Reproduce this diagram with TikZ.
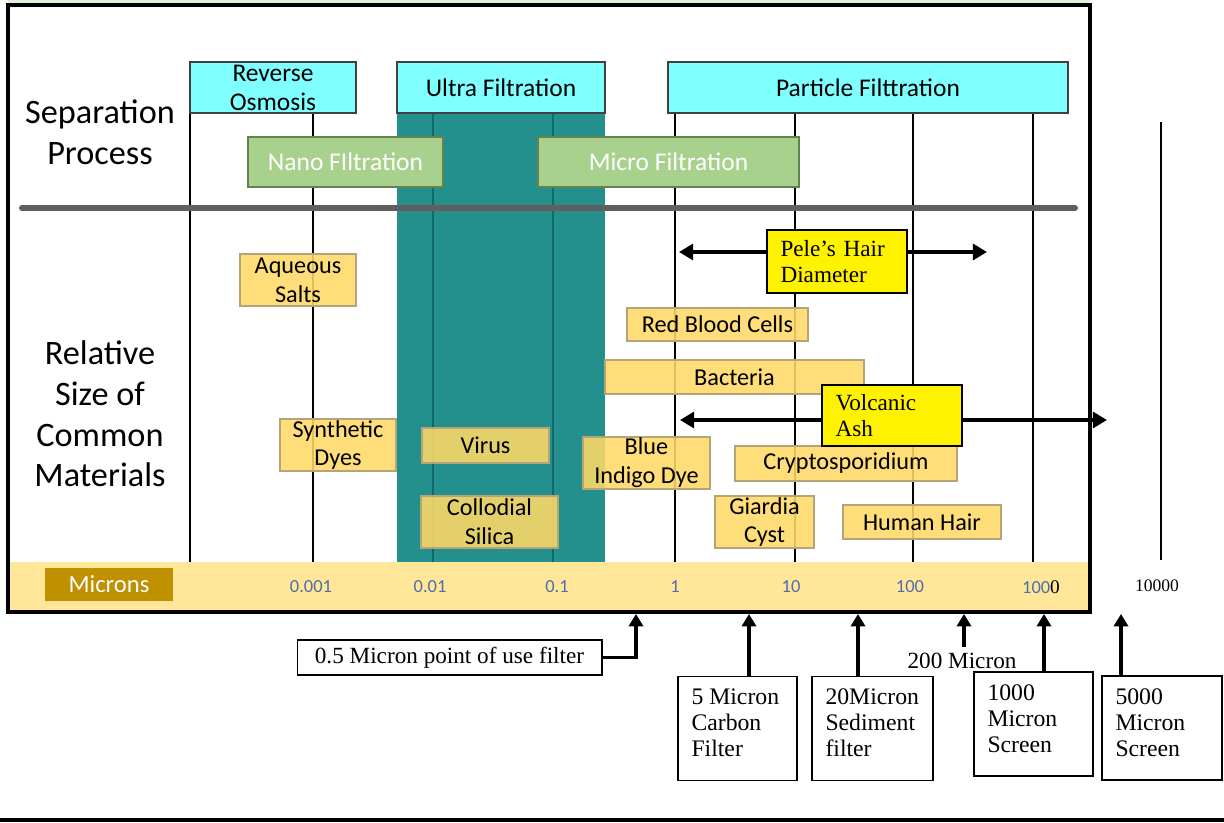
\documentclass[tikz,border=0pt]{standalone}
\usepackage{fontspec}
\usepackage{tikz}
\usepackage{xcolor}
\setmainfont{Liberation Serif}
\newfontfamily\carlito{Carlito}
\usetikzlibrary{arrows.meta}

\definecolor{procblue}{RGB}{128,255,255}
\definecolor{procgreen}{RGB}{169,209,142}
\definecolor{greenline}{RGB}{100,130,80}
\definecolor{matyellow}{RGB}{255,217,102}
\definecolor{matline}{RGB}{180,165,120}
\definecolor{ufteal}{RGB}{35,144,141}
\definecolor{ufline}{RGB}{15,105,105}
\definecolor{bandyellow}{RGB}{255,230,153}
\definecolor{micronbrown}{RGB}{191,144,0}
\definecolor{ticktext}{RGB}{80,110,170}
\definecolor{topgreen}{RGB}{226,240,217}
\definecolor{sepgrey}{RGB}{95,95,95}

\begin{document}
\begin{tikzpicture}[x=0.02cm,y=-0.02cm,
    procbox/.style={draw=black!75,fill=procblue,line width=0.8pt,font=\carlito\fontsize{14.5}{16.5}\selectfont,align=center,inner sep=0pt},
    greenbox/.style={draw=greenline,fill=procgreen,line width=0.8pt,text=white,font=\carlito\fontsize{14.5}{16.5}\selectfont,inner sep=0pt},
    matbox/.style={draw=matline,fill=matyellow,fill opacity=0.88,text opacity=1,line width=0.8pt,font=\carlito\fontsize{13.8}{16.4}\selectfont,align=center,inner sep=0pt},
    notebox/.style={draw,fill=yellow,line width=0.9pt,font=\fontsize{13.2}{15.2}\selectfont,align=left,inner xsep=0.27cm,inner ysep=0pt},
    filtbox/.style={draw,line width=0.6pt,font=\fontsize{13.5}{14.8}\selectfont,inner xsep=0.27cm,inner ysep=0.14cm},
    ticklabel/.style={text=ticktext,font=\carlito\fontsize{10.5}{12}\selectfont},
    bigtitle/.style={font=\carlito\fontsize{19.5}{23.2}\selectfont,align=center},
    gridline/.style={line width=1.5pt},
    sizearrow/.style={line width=2.2pt,{Triangle[width=9pt,length=8pt]}-{Triangle[width=9pt,length=8pt]}},
    uparrow/.style={line width=2pt,-{Triangle[width=8pt,length=7pt]}}]
    \useasboundingbox (0,0) rectangle (1224,822);
    \fill[topgreen] (8,0) rectangle (1090,5);
    \fill[ufteal] (397,113) rectangle (605,562);
    \foreach \xx in {190,313,675,795,913,1033}
        \draw[gridline] (\xx,113) -- (\xx,562);
    \foreach \xx in {433,553}
        \draw[gridline,ufline] (\xx,113) -- (\xx,562);
    \draw[gridline] (1161,122) -- (1161,560);
    \draw[line width=3.4pt,sepgrey,line cap=round] (22,208) -- (1075,208);

    \node[bigtitle] (septitle) at (100,132) {Separation\\Process};
    \node[bigtitle] (reltitle) at (100,414) {Relative\\Size of\\Common\\Materials};

    \node[procbox,minimum width=3.32cm,minimum height=1.02cm] (ro) at (273,87.5) {Reverse\\Osmosis};
    \node[procbox,minimum width=4.16cm,minimum height=1.02cm] (uf) at (501,87.5) {Ultra Filtration};
    \node[procbox,minimum width=8cm,minimum height=1.02cm] (pf) at (868,87.5) {Particle Filttration};
    \node[greenbox,minimum width=3.9cm,minimum height=1cm] (nf) at (345.5,162) {Nano FIltration};
    \node[greenbox,minimum width=5.22cm,minimum height=1cm] (mf) at (668.5,162) {Micro Filtration};

    \coordinate (peleL) at (679,252);
    \coordinate (peleR) at (987,252);
    \draw[sizearrow] (peleL) -- (peleR);
    \coordinate (ashL) at (680,420);
    \coordinate (ashR) at (1107,420);
    \draw[sizearrow] (ashL) -- (ashR);

    \node[matbox,minimum width=2.32cm,minimum height=1.04cm] (salts) at (298,280) {Aqueous\\Salts};
    \node[matbox,minimum width=2.32cm,minimum height=1.04cm] (dyes) at (338,445) {Synthetic\\Dyes};
    \node[matbox,minimum width=2.54cm,minimum height=0.7cm] (virus) at (485.5,445.5) {Virus};
    \node[matbox,minimum width=2.74cm,minimum height=1.04cm] (silica) at (489.5,522) {Collodial\\Silica};
    \node[matbox,minimum width=3.62cm,minimum height=0.66cm] (rbc) at (717.5,324.5) {Red Blood Cells};
    \node[matbox,minimum width=5.18cm,minimum height=0.68cm] (bacteria) at (734.5,377) {Bacteria};
    \node[matbox,minimum width=2.54cm,minimum height=1.04cm] (indigo) at (646.5,463) {Blue\\Indigo Dye};
    \node[matbox,minimum width=4.44cm,minimum height=0.7cm] (crypto) at (846,463.5) {Cryptosporidium};
    \node[matbox,minimum width=1.98cm,minimum height=1.04cm] (giardia) at (764.5,522) {Giardia\\Cyst};
    \node[matbox,minimum width=3.16cm,minimum height=0.68cm] (hair) at (922,522) {Human Hair};

    \node[notebox,text width=2.26cm,minimum height=1.26cm] (pele) at (837,261.5) {Pele’s Hair\\Diameter};
    \node[notebox,text width=2.26cm,minimum height=1.22cm] (ash) at (892,415.5) {Volcanic\\Ash};

    \fill[bandyellow] (8,562) rectangle (1090,612);
    \draw[line width=1.8pt] (8,5) rectangle (1090,612);
    \node[fill=micronbrown,text=white,minimum width=2.56cm,minimum height=0.66cm,font=\carlito\fontsize{14}{16}\selectfont] (microns) at (109,584.5) {Microns};
    \foreach \xx/\lab [count=\i] in {311/0.001,430/0.01,557/0.1,675/1,791/10,910/100}
        \node[ticklabel] (tick\i) at (\xx,587) {\lab};
    \node[ticklabel] (tick7) at (1041,587) {100{\rmfamily\color{black}\fontsize{11}{12}\selectfont 0}};
    \node[font=\fontsize{10}{12}\selectfont] (tick8) at (1157,586) {10000};

    \node[draw,line width=0.6pt,font=\fontsize{13.2}{15}\selectfont,minimum width=6.1cm,minimum height=0.7cm,inner sep=0pt] (f05) at (449.5,657.5) {0.5 Micron point of use filter};
    \node[filtbox] (f5) at (737.5,728.5) {\parbox[c][1.8cm][t]{1.84cm}{\rule{0pt}{12pt}5 Micron\\Carbon\\Filter}};
    \node[filtbox] (f20) at (872.5,728.5) {\parbox[c][1.8cm][t]{1.88cm}{\rule{0pt}{12pt}20Micron\\Sediment\\filter}};
    \node[font=\fontsize{13.2}{15}\selectfont] (m200) at (962,661) {200 Micron};
    \node[filtbox] (s1000) at (1033.5,724) {\parbox[c][1.8cm][t]{1.84cm}{\rule{0pt}{12pt}1000\\Micron\\Screen}};
    \node[filtbox] (s5000) at (1162,728) {\parbox[c][1.8cm][t]{1.86cm}{\rule{0pt}{12pt}5000\\Micron\\Screen}};

    \coordinate (t05) at (636,614);
    \coordinate (t5) at (749,614);
    \coordinate (t20) at (858,614);
    \coordinate (t200) at (964,614);
    \coordinate (t1000) at (1044,614);
    \coordinate (t5000) at (1121,614);
    \draw[uparrow] (f05.east) -| (t05);
    \draw[uparrow] (t5 |- f5.north) -- (t5);
    \draw[uparrow] (t20 |- f20.north) -- (t20);
    \draw[uparrow] (t200 |- m200.north) -- (t200);
    \draw[uparrow] (t1000 |- s1000.north) -- (t1000);
    \draw[uparrow] (t5000 |- s5000.north) -- (t5000);

    \draw[line width=2pt] (0,820) -- (1224,820);
\end{tikzpicture}
\end{document}
